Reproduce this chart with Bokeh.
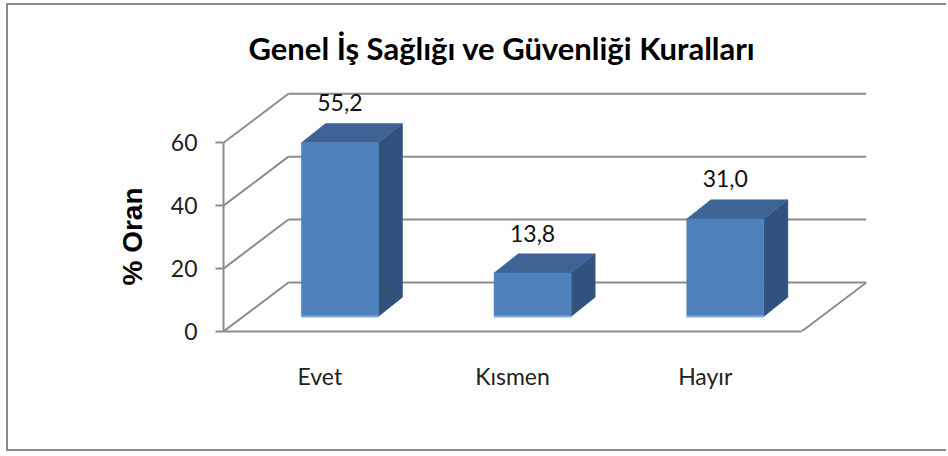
from bokeh.plotting import figure
from bokeh.models import Range1d, FixedTicker, Title, ColumnDataSource
from bokeh.core.properties import value
from bokeh.embed import file_html
from bokeh.resources import INLINE

# ---- data ----
title_text = "Genel İş Sağlığı ve Güvenliği Kuralları"
categories = ["Evet", "Kısmen", "Hayır"]
values = [55.2, 13.8, 31.0]
value_labels = ["55,2", "13,8", "31,0"]
y_ticks = [0, 20, 40, 60]
y_label = "% Oran"

# ---- 3D style (depth offsets in axis units) ----
WALL_DX, WALL_DY = 0.337, 15.6
BAR_W, BAR_OX, BAR_OY = 0.4, 0.104, 4.8
BAR_DX, BAR_DY = 0.125, 6.1
GRID = "#8c8c8c"
FRAME = "#8a8a8a"

n = len(categories)
p = figure(width=940, height=448, x_range=Range1d(0, n + WALL_DX), y_range=Range1d(0, 81.4),
           output_backend="svg", toolbar_location=None,
           min_border_left=215, min_border_right=82, min_border_top=70, min_border_bottom=122)
p.outline_line_color = None
p.xgrid.visible = False
p.ygrid.visible = False
p.background_fill_color = "white"
p.border_fill_color = "white"
p.styles = {"border-left": f"2px solid {FRAME}", "border-top": f"2px solid {FRAME}",
            "border-bottom": f"2px solid {FRAME}", "margin-left": "6px", "margin-top": "3px"}

# walls / gridlines
xs, ys = [], []
top_tick = max(y_ticks)
for t in y_ticks:
    xs.append([WALL_DX, n + WALL_DX]); ys.append([t + WALL_DY, t + WALL_DY])
    xs.append([0, WALL_DX]); ys.append([t, t + WALL_DY])
xs.append([n, n + WALL_DX]); ys.append([0, WALL_DY])
p.multi_line(xs, ys, line_color=GRID, line_width=2)

# bars
lefts = [i + 0.5 - BAR_W / 2 + BAR_OX for i in range(n)]
rights = [l + BAR_W for l in lefts]
bottoms = [BAR_OY] * n
tops = [BAR_OY + v for v in values]
side_x = [[r, r, r + BAR_DX, r + BAR_DX] for r in rights]
side_y = [[b, t, t + BAR_DY, b + BAR_DY] for b, t in zip(bottoms, tops)]
top_x = [[l, r, r + BAR_DX, l + BAR_DX] for l, r in zip(lefts, rights)]
top_y = [[t, t, t + BAR_DY, t + BAR_DY] for t in tops]
p.patches(side_x, side_y, fill_color="#31527c", line_color="#31527c", line_width=0.5)
p.patches(top_x, top_y, fill_color="#3d6494", line_color="#3d6494", line_width=0.5)
p.quad(left=lefts, right=rights, bottom=bottoms, top=tops, fill_color="#4f81bd", line_color="#4f81bd", line_width=0.5)
p.segment(x0=lefts, y0=bottoms, x1=rights, y1=bottoms, line_color="#86abd9", line_width=2)

# value labels
src = ColumnDataSource(dict(x=[l + BAR_W / 2 for l in lefts], y=[t + BAR_DY + 6.6 for t in tops], text=value_labels))
p.text(x="x", y="y", text="text", source=src, text_align="center", text_baseline="alphabetic",
       text_font=value("Lato"), text_font_size="23px", text_color="#111111")

# y axis (front plane)
ya = p.yaxis[0]
ya.ticker = FixedTicker(ticks=y_ticks)
ya.bounds = (0, top_tick)
ya.axis_line_color = GRID
ya.axis_line_width = 2
ya.major_tick_line_color = GRID
ya.major_tick_line_width = 2
ya.major_tick_out = 8
ya.major_tick_in = 0
ya.minor_tick_line_color = None
ya.major_label_standoff = 18
ya.major_label_text_font = "Lato"
ya.major_label_text_font_size = "23px"
ya.major_label_text_color = "#222222"

# x axis (front floor edge)
xa = p.xaxis[0]
xa.ticker = FixedTicker(ticks=[i + 0.5 for i in range(n)])
xa.major_label_overrides = {i + 0.5: c for i, c in enumerate(categories)}
xa.bounds = (0, n)
xa.axis_line_color = GRID
xa.axis_line_width = 2
xa.major_tick_line_color = None
xa.minor_tick_line_color = None
xa.major_label_standoff = 24
xa.major_label_text_font = "Lato"
xa.major_label_text_font_size = "23px"
xa.major_label_text_color = "#222222"

# y axis title (vertical, left of axis)
p.add_layout(Title(text=y_label, align="left", offset=46, standoff=40,
                   text_font="Liberation Sans", text_font_style="bold", text_font_size="28px",
                   text_color="#000000"), "left")

# title
p.title.text = title_text
p.title.align = "left"
p.title.offset = 25
p.title.standoff = 18
p.title.text_font = "Lato"
p.title.text_font_style = "bold"
p.title.text_font_size = "31px"
p.title.text_color = "#000000"

open("out.html", "w").write(file_html(p, INLINE))
